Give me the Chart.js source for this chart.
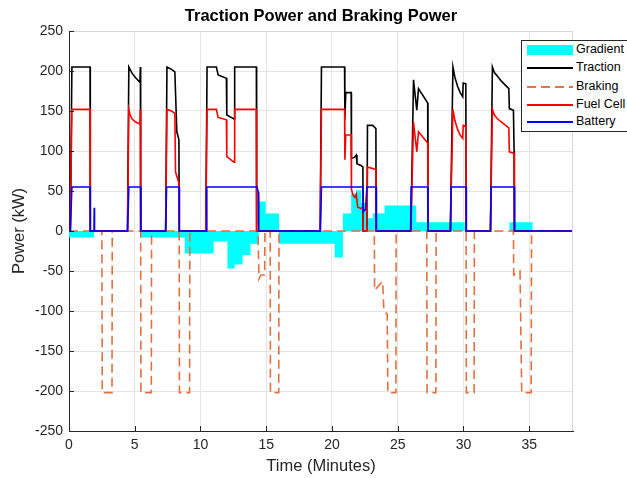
<!DOCTYPE html>
<html>
<head>
<meta charset="utf-8">
<script src="https://cdn.jsdelivr.net/npm/chart.js@4.4.0/dist/chart.umd.min.js"></script>
<style>
  html, body { margin: 0; padding: 0; background: #fff; overflow: hidden; }
  #wrap { position: relative; width: 627px; height: 478px; overflow: hidden; }
  #legend { position: absolute; left: 521px; top: 40px; width: 112px; height: 92px; box-sizing: border-box;
            border: 1px solid #262626; background: #fff; font: 12.5px "Liberation Sans", Arial, sans-serif; color: #000; }
  .row { position: absolute; left: 0; width: 100%; height: 18px; }
  .sw { position: absolute; left: 5px; width: 46px; top: 8px; height: 2px; }
  .lbl { position: absolute; left: 54px; top: 1px; white-space: nowrap; }
</style>
</head>
<body>
<div id="wrap">
  <canvas id="powerChart" width="627" height="478"></canvas>
  <div id="legend">
    <div class="row" style="top:0px"><div class="sw" style="top:4px;height:10px;background:#00ffff"></div><span class="lbl">Gradient</span></div>
    <div class="row" style="top:18px"><div class="sw" style="background:#000"></div><span class="lbl">Traction</span></div>
    <div class="row" style="top:36.5px"><div class="sw" style="background:repeating-linear-gradient(90deg,#e07845 0 9px,transparent 9px 14px)"></div><span class="lbl">Braking</span></div>
    <div class="row" style="top:55px"><div class="sw" style="background:#ff0000"></div><span class="lbl">Fuel Cell</span></div>
    <div class="row" style="top:72px"><div class="sw" style="background:#0000ff"></div><span class="lbl">Battery</span></div>
  </div>
</div>
<script>
// time in minutes, power in kW
var tractionTime = [0, 0.1, 0.22, 1.6, 1.62,
  4.45, 4.55, 4.8, 5.1, 5.39, 5.43, 5.45,
  7.35, 7.45, 7.8, 8.05, 8.2, 8.36, 8.38,
  10.4, 10.5, 11.21, 11.34, 11.97, 12.0, 12.55, 12.6, 14.25, 14.27,
  19.1, 19.2, 20.96, 20.98, 21.05, 21.46, 21.48, 21.7, 21.85, 21.9, 22.2, 22.35, 22.37,
  22.66, 22.7, 23.1, 23.34, 23.36,
  26.0, 26.2, 26.45, 26.58, 27.28, 27.3,
  29.0, 29.2, 29.35, 29.55, 29.75, 29.94, 29.98, 30.18, 30.2,
  32.05, 32.2, 32.35, 32.6, 32.9, 33.2, 33.45, 33.49, 33.8, 33.85, 33.87,
  38.33];
var tractionPower = [0, 0, 205, 205, 0,
  0, 205, 197, 191, 186, 205, 0,
  0, 205, 202, 199, 124, 114, 0,
  0, 205, 205, 195, 191, 145, 140, 205, 205, 0,
  0, 205, 205, 140, 173, 173, 91, 92, 95, 84, 82, 80, 0,
  0, 132, 132, 128, 0,
  0, 189, 151, 178, 160, 0,
  0, 205, 192, 181, 173, 168, 185, 184, 0,
  0, 205, 198, 193, 187, 182, 178, 153, 151, 100, 0,
  0];

var fuelTime = [0, 0.1, 0.22, 1.6, 1.62,
  4.45, 4.55, 4.65, 4.8, 5.0, 5.2, 5.39, 5.43, 5.45,
  7.35, 7.45, 7.8, 8.05, 8.1, 8.36, 8.38,
  10.4, 10.5, 11.21, 11.34, 11.97, 12.0, 12.55, 12.6, 14.25, 14.27,
  19.1, 19.2, 20.96, 20.98, 21.05, 21.46, 21.48, 21.6, 21.75, 21.85, 21.95, 22.2, 22.35, 22.37,
  22.66, 22.7, 23.34, 23.36,
  26.0, 26.2, 26.45, 26.58, 27.28, 27.3,
  29.0, 29.2, 29.35, 29.55, 29.75, 29.94, 29.98, 30.18, 30.2,
  32.05, 32.2, 32.35, 32.6, 32.9, 33.2, 33.45, 33.49, 33.85, 33.87,
  38.33];
var fuelPower = [0, 0, 152, 152, 0,
  0, 152, 145, 140, 137, 135, 134, 152, 0,
  0, 152, 150, 147, 74, 60, 0,
  0, 152, 152, 142, 139, 93, 86, 152, 152, 0,
  0, 152, 152, 89, 120, 120, 52, 45, 42, 46, 30, 28, 30, 0,
  0, 80, 77, 0,
  0, 136, 99, 124, 110, 0,
  0, 152, 138, 127, 120, 116, 132, 131, 0,
  0, 152, 145, 140, 136, 132, 129, 99, 97, 0,
  0];

var batteryTime = [0, 0.1, 0.22, 1.6, 1.62, 1.9, 1.92, 1.94,
  4.45, 4.55, 5.45, 5.47, 7.35, 7.42, 8.38, 8.4,
  10.42, 10.48, 14.3, 14.4, 14.43,
  19.12, 19.2, 22.35, 22.37, 22.55, 22.66, 23.36, 23.38,
  25.98, 26.02, 27.28, 27.3, 29.02, 29.06, 30.2, 30.22,
  32.06, 32.1, 33.87, 33.89, 38.33];
var batteryPower = [0, 0, 55, 55, 0, 0, 29, 0,
  0, 55, 55, 0, 0, 55, 55, 0,
  0, 55, 55, 48, 0,
  0, 55, 55, 24, 27, 55, 55, 0,
  0, 55, 55, 0, 0, 55, 55, 0,
  0, 55, 55, 0, 0];

var brakingTime = [0, 2.5, 2.53, 3.27, 3.29,
  5.45, 5.47, 6.26, 6.28,
  8.38, 8.4, 9.17, 9.19,
  14.37, 14.45, 14.6, 14.88, 14.9, 15.3, 15.32, 15.95, 15.97,
  23.22, 23.24, 23.85, 23.95, 24.2, 24.25, 24.86, 24.88,
  27.21, 27.23, 27.9, 27.92,
  30.2, 30.22, 30.81, 30.83,
  33.8, 33.82, 34.3, 34.43, 35.15, 35.18,
  38.33];
var brakingPower = [0, 0, -202, -202, 0,
  0, -202, -202, 0,
  0, -202, -202, 0,
  0, -60, -55, -55, 0, 0, -202, -202, 0,
  0, -74, -63, -100, -104, -202, -202, 0,
  0, -202, -202, 0,
  0, -202, -202, 0,
  0, -55, -50, -202, -202, 0,
  0];

// gradient power, each value holds until the next time
var gradientTime = [0, 1.9, 5.4, 8.8, 11.0, 12.05, 12.6, 13.2, 13.8, 14.43, 14.96, 15.97,
  20.2, 20.83, 21.46, 21.84, 22.22, 22.6, 23.1, 24.0, 26.4, 30.1, 33.5, 35.25, 38.33];
var gradientPower = [-8, 0, -8, -28, -13, -47, -42, -30, -16, 37, 22, -16,
  -33, 22, 47, 51, 35, 16, 22, 32, 11, 0, 11, 0, 0];

var xTicks = [0, 5, 10, 15, 20, 25, 30, 35];
var yTicks = [-250, -200, -150, -100, -50, 0, 50, 100, 150, 200, 250];

function pts(t, v) {
  var out = [];
  for (var i in t) out.push({x: t[i], y: v[i]});
  return out;
}

var FONT = '"Liberation Sans", Arial, sans-serif';

// title, light top/right frame and inward ticks like the original figure
var axesFrame = {
  id: 'axesFrame',
  afterDraw: function(chart) {
    var ctx = chart.ctx, a = chart.chartArea, xs = chart.scales.x, ys = chart.scales.y;
    ctx.save();
    ctx.lineWidth = 1;
    ctx.strokeStyle = '#d6d6d6';
    ctx.beginPath();
    ctx.moveTo(a.left, a.top + 0.5); ctx.lineTo(a.right, a.top + 0.5);
    ctx.moveTo(a.right - 0.5, a.top); ctx.lineTo(a.right - 0.5, a.bottom);
    ctx.stroke();
    ctx.strokeStyle = '#262626';
    ctx.beginPath();
    xTicks.forEach(function(v) {
      var px = Math.round(xs.getPixelForValue(v)) + 0.5;
      ctx.moveTo(px, a.bottom); ctx.lineTo(px, a.bottom - 5);
    });
    yTicks.forEach(function(v) {
      var py = Math.round(ys.getPixelForValue(v)) + 0.5;
      ctx.moveTo(a.left, py); ctx.lineTo(a.left + 5, py);
    });
    ctx.stroke();
    ctx.fillStyle = '#000';
    ctx.font = 'bold 16.5px ' + FONT;
    ctx.textAlign = 'center';
    ctx.textBaseline = 'middle';
    ctx.fillText('Traction Power and Braking Power', (a.left + a.right) / 2, 16);
    ctx.restore();
  }
};

var ctx = document.getElementById('powerChart').getContext('2d');
var powerChart = new Chart(ctx, {
  type: 'line',
  data: {
    datasets: [
      { label: 'Battery', data: pts(batteryTime, batteryPower), borderColor: '#0000ff', borderWidth: 1.6, order: 0 },
      { label: 'Fuel Cell', data: pts(fuelTime, fuelPower), borderColor: '#ff0000', borderWidth: 1.6, order: 1 },
      { label: 'Braking', data: pts(brakingTime, brakingPower), borderColor: '#e07040', borderWidth: 1.6, borderDash: [9, 5], order: 2 },
      { label: 'Traction', data: pts(tractionTime, tractionPower), borderColor: '#000000', borderWidth: 1.6, order: 3 },
      { label: 'Gradient', data: pts(gradientTime, gradientPower), stepped: true, fill: 'origin',
        backgroundColor: '#00ffff', borderColor: '#00ffff', borderWidth: 0, order: 4 }
    ]
  },
  options: {
    responsive: false,
    animation: false,
    devicePixelRatio: 1,
    layout: { padding: { top: 31, right: 54, left: 0, bottom: 0 } },
    elements: { point: { radius: 0 }, line: { tension: 0 } },
    plugins: {
      legend: { display: false },
      title: { display: false },
      tooltip: { enabled: false }
    },
    scales: {
      x: {
        type: 'linear', min: 0, max: 38.33,
        afterFit: function(s) { s.height = 47; },
        afterBuildTicks: function(s) { s.ticks = xTicks.map(function(v) { return {value: v}; }); },
        ticks: { padding: 6, color: '#262626', font: { family: FONT, size: 14 }, maxRotation: 0 },
        grid: { color: '#e4e4e4', drawTicks: false },
        border: { color: '#262626', width: 1 },
        title: { display: true, text: 'Time (Minutes)', color: '#262626', font: { family: FONT, size: 16.5 }, padding: { top: 0, bottom: 2 } }
      },
      y: {
        type: 'linear', min: -250, max: 250,
        afterFit: function(s) { s.width = 69; },
        afterBuildTicks: function(s) { s.ticks = yTicks.map(function(v) { return {value: v}; }); },
        ticks: { padding: 6, color: '#262626', font: { family: FONT, size: 14 } },
        grid: { color: '#e4e4e4', drawTicks: false },
        border: { color: '#262626', width: 1 },
        title: { display: true, text: 'Power (kW)', color: '#262626', font: { family: FONT, size: 16.5 }, padding: { top: 10, bottom: 0 } }
      }
    }
  },
  plugins: [axesFrame]
});
</script>
</body>
</html>
